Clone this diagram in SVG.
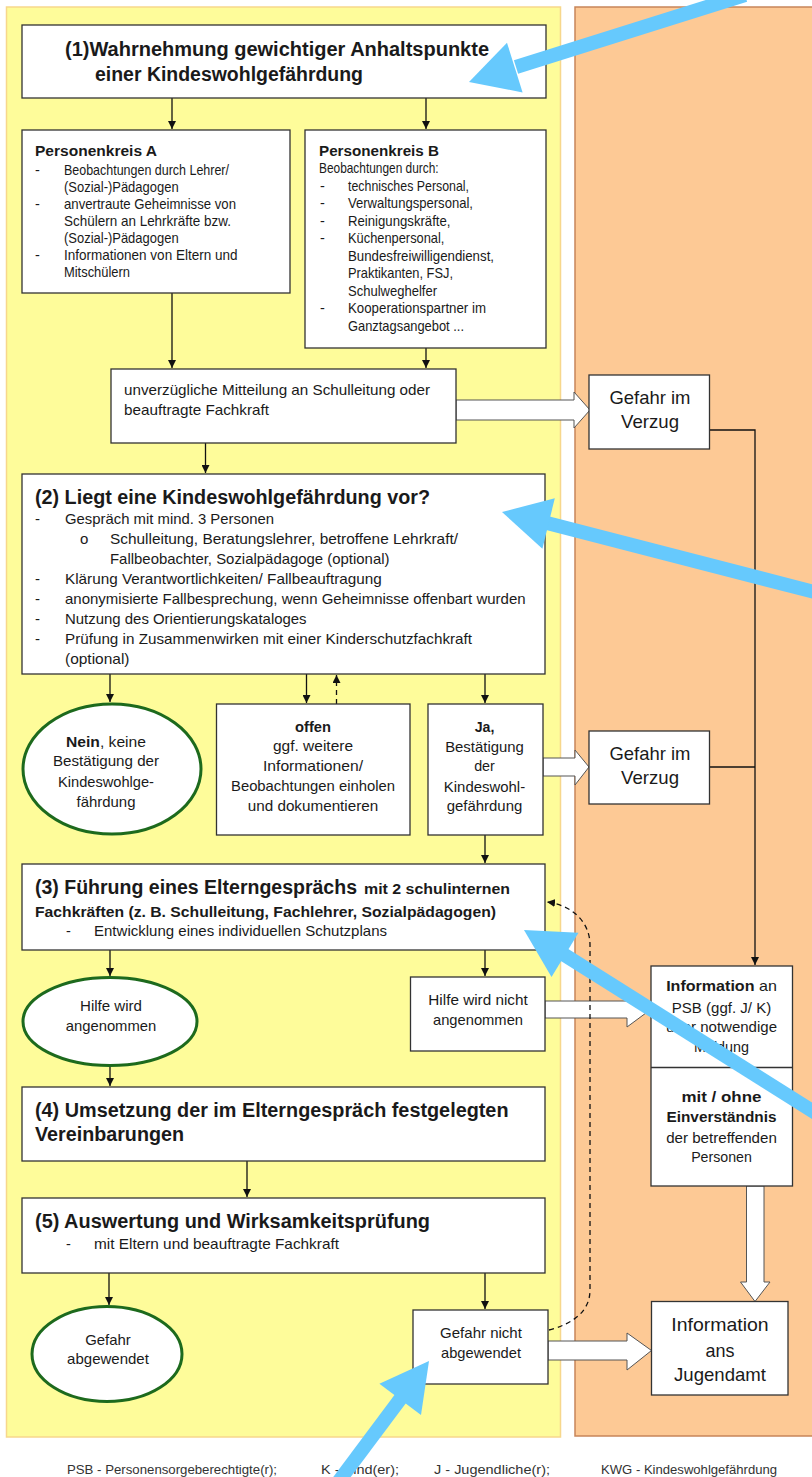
<svg xmlns="http://www.w3.org/2000/svg" width="812" height="1477" viewBox="0 0 812 1477">
<style>
text{font-family:"Liberation Sans",Arial,sans-serif;fill:#1a1a1a}
.h{font-size:20px;font-weight:bold}
.hb{font-size:14.5px;font-weight:bold}
.t{font-size:14.5px}
.m{font-size:15px}
.g{font-size:19px}
.c{text-anchor:middle}
.f{font-size:13px;fill:#333}
.box{fill:#fff;stroke:#333;stroke-width:1.3}
.ell{fill:#fff;stroke:#1d6a1d;stroke-width:3}
.ln{fill:none;stroke:#111;stroke-width:1.3}
.dash{fill:none;stroke:#111;stroke-width:1.3;stroke-dasharray:5 4}
.blk{fill:#fff;stroke:#555;stroke-width:1}
.blue{stroke:#66c9fd;stroke-width:14;fill:none}
.blueh{fill:#66c9fd}
</style>
<defs>
<marker id="ah" viewBox="0 0 10 10" refX="10" refY="5" markerWidth="8" markerHeight="8" markerUnits="userSpaceOnUse" orient="auto"><path d="M0,0 L10,5 L0,10 z" fill="#111"/></marker>
</defs>
<rect width="812" height="1477" fill="#fff"/>
<g id="panels">
<rect x="6.5" y="7" width="554" height="1430" fill="#fefc9a" stroke="#f7d78c" stroke-width="1.5"/>
<rect x="575" y="7" width="245" height="1429" fill="#fdc995" stroke="#c7855a" stroke-width="1.5"/>
</g>
<g id="connectors">
<line class="ln" x1="172" y1="98" x2="172" y2="129" marker-end="url(#ah)"/>
<line class="ln" x1="426" y1="98" x2="426" y2="129" marker-end="url(#ah)"/>
<line class="ln" x1="172" y1="293" x2="172" y2="368" marker-end="url(#ah)"/>
<line class="ln" x1="426" y1="348" x2="426" y2="368" marker-end="url(#ah)"/>
<line class="ln" x1="205.5" y1="443" x2="205.5" y2="473" marker-end="url(#ah)"/>
<polygon class="blk" points="456,400 574,400 574,392 590,410 574,428 574,420 456,420"/>
<polyline class="ln" points="709,430 755,430 755,965" marker-end="url(#ah)"/>
<line class="ln" x1="110" y1="674" x2="110" y2="702" marker-end="url(#ah)"/>
<line class="ln" x1="306.5" y1="674" x2="306.5" y2="703" marker-end="url(#ah)"/>
<line class="dash" x1="336.5" y1="704" x2="336.5" y2="675" marker-end="url(#ah)"/>
<line class="ln" x1="485" y1="674" x2="485" y2="703" marker-end="url(#ah)"/>
<polygon class="blk" points="543,758 575,758 575,750 589,767 575,785 575,776 543,776"/>
<line class="ln" x1="709" y1="767" x2="755" y2="767"/>
<line class="ln" x1="485" y1="835" x2="485" y2="863" marker-end="url(#ah)"/>
<line class="ln" x1="110" y1="950" x2="110" y2="976" marker-end="url(#ah)"/>
<line class="ln" x1="485" y1="950" x2="485" y2="976" marker-end="url(#ah)"/>
<polygon class="blk" points="545,1001 627,1001 627,993 650,1010 627,1027 627,1018 545,1018"/>
<line class="ln" x1="110" y1="1066" x2="110" y2="1086" marker-end="url(#ah)"/>
<line class="ln" x1="247" y1="1161" x2="247" y2="1197" marker-end="url(#ah)"/>
<line class="ln" x1="109" y1="1273" x2="109" y2="1305" marker-end="url(#ah)"/>
<line class="ln" x1="485" y1="1273" x2="485" y2="1309" marker-end="url(#ah)"/>
<polygon class="blk" points="746.5,1186 764,1186 764,1282 770,1282 755,1301.5 740.5,1282 746.5,1282"/>
<polygon class="blk" points="548,1341 627,1341 627,1333 651.5,1350.5 627,1370 627,1360 548,1360"/>
<path class="dash" d="M549,1330 C572,1324 590,1312 590,1290 L590,945 C590,922 572,905 547,902" marker-end="url(#ah)"/>
</g>
<g id="n1">
<rect class="box" x="22" y="25" width="524" height="73"/>
<text class="h" x="65" y="56" textLength="424" lengthAdjust="spacingAndGlyphs">(1)Wahrnehmung gewichtiger Anhaltspunkte</text>
<text class="h" x="95" y="80.5" textLength="268" lengthAdjust="spacingAndGlyphs">einer Kindeswohlgefährdung</text>
</g>
<g id="nA">
<rect class="box" x="22" y="130" width="268" height="163"/>
<text class="hb" x="35" y="156.4" textLength="122" lengthAdjust="spacingAndGlyphs">Personenkreis A</text>
<text class="t" x="35" y="175.3">-</text>
<text class="t" x="64" y="175.3" textLength="165" lengthAdjust="spacingAndGlyphs">Beobachtungen durch Lehrer/</text>
<text class="t" x="64" y="192.3" textLength="114.6" lengthAdjust="spacingAndGlyphs">(Sozial-)Pädagogen</text>
<text class="t" x="35" y="209.3">-</text>
<text class="t" x="64" y="209.3" textLength="172" lengthAdjust="spacingAndGlyphs">anvertraute Geheimnisse von</text>
<text class="t" x="64" y="226.3" textLength="167" lengthAdjust="spacingAndGlyphs">Schülern an Lehrkräfte bzw.</text>
<text class="t" x="64" y="243.3" textLength="114.6" lengthAdjust="spacingAndGlyphs">(Sozial-)Pädagogen</text>
<text class="t" x="35" y="260.3">-</text>
<text class="t" x="64" y="260.3" textLength="173.5" lengthAdjust="spacingAndGlyphs">Informationen von Eltern und</text>
<text class="t" x="64" y="277.3" textLength="66" lengthAdjust="spacingAndGlyphs">Mitschülern</text>
</g>
<g id="nB">
<rect class="box" x="305" y="130" width="241" height="218"/>
<text class="hb" x="319" y="156.4" textLength="120" lengthAdjust="spacingAndGlyphs">Personenkreis B</text>
<text class="t" x="319" y="173" textLength="119.6" lengthAdjust="spacingAndGlyphs">Beobachtungen durch:</text>
<text class="t" x="320" y="190.5">-</text>
<text class="t" x="348" y="190.5" textLength="121" lengthAdjust="spacingAndGlyphs">technisches Personal,</text>
<text class="t" x="320" y="208">-</text>
<text class="t" x="348" y="208" textLength="125" lengthAdjust="spacingAndGlyphs">Verwaltungspersonal,</text>
<text class="t" x="320" y="225.5">-</text>
<text class="t" x="348" y="225.5" textLength="102.5" lengthAdjust="spacingAndGlyphs">Reinigungskräfte,</text>
<text class="t" x="320" y="243">-</text>
<text class="t" x="348" y="243" textLength="96.4" lengthAdjust="spacingAndGlyphs">Küchenpersonal,</text>
<text class="t" x="348" y="260.5" textLength="146" lengthAdjust="spacingAndGlyphs">Bundesfreiwilligendienst,</text>
<text class="t" x="348" y="278" textLength="105" lengthAdjust="spacingAndGlyphs">Praktikanten, FSJ,</text>
<text class="t" x="348" y="295.5" textLength="89" lengthAdjust="spacingAndGlyphs">Schulweghelfer</text>
<text class="t" x="320" y="313">-</text>
<text class="t" x="348" y="313" textLength="138" lengthAdjust="spacingAndGlyphs">Kooperationspartner im</text>
<text class="t" x="348" y="330.5" textLength="116" lengthAdjust="spacingAndGlyphs">Ganztagsangebot ...</text>
</g>
<g id="nMitteilung">
<rect class="box" x="111" y="369" width="345" height="74"/>
<text class="t" x="124" y="395.4" textLength="306" lengthAdjust="spacingAndGlyphs">unverzügliche Mitteilung an Schulleitung oder</text>
<text class="t" x="124" y="414.7" textLength="145" lengthAdjust="spacingAndGlyphs">beauftragte Fachkraft</text>
</g>
<g id="nGefahr1">
<rect class="box" x="589" y="375" width="120.5" height="74"/>
<text class="g c" x="650" y="404.3" textLength="81" lengthAdjust="spacingAndGlyphs">Gefahr im</text>
<text class="g c" x="650" y="428" textLength="58" lengthAdjust="spacingAndGlyphs">Verzug</text>
</g>
<g id="n2">
<rect class="box" x="22" y="474" width="523" height="200"/>
<text class="h" x="35" y="503.5" textLength="395" lengthAdjust="spacingAndGlyphs">(2) Liegt eine Kindeswohlgefährdung vor?</text>
<text class="m" x="35" y="524.2">-</text>
<text class="m" x="65" y="524.2" textLength="209" lengthAdjust="spacingAndGlyphs">Gespräch mit mind. 3 Personen</text>
<text class="m" x="80" y="543.9">o</text>
<text class="m" x="110" y="543.9" textLength="348" lengthAdjust="spacingAndGlyphs">Schulleitung, Beratungslehrer, betroffene Lehrkraft/</text>
<text class="m" x="110" y="563.9" textLength="279.5" lengthAdjust="spacingAndGlyphs">Fallbeobachter, Sozialpädagoge (optional)</text>
<text class="m" x="35" y="583.9">-</text>
<text class="m" x="65" y="583.9" textLength="316.7" lengthAdjust="spacingAndGlyphs">Klärung Verantwortlichkeiten/ Fallbeauftragung</text>
<text class="m" x="35" y="603.9">-</text>
<text class="m" x="65" y="603.9" textLength="460.6" lengthAdjust="spacingAndGlyphs">anonymisierte Fallbesprechung, wenn Geheimnisse offenbart wurden</text>
<text class="m" x="35" y="623.9">-</text>
<text class="m" x="65" y="623.9" textLength="241.6" lengthAdjust="spacingAndGlyphs">Nutzung des Orientierungskataloges</text>
<text class="m" x="35" y="643.9">-</text>
<text class="m" x="65" y="643.9" textLength="407" lengthAdjust="spacingAndGlyphs">Prüfung in Zusammenwirken mit einer Kinderschutzfachkraft</text>
<text class="m" x="65" y="663.9" textLength="64.5" lengthAdjust="spacingAndGlyphs">(optional)</text>
</g>
<g id="nNein">
<ellipse class="ell" cx="112" cy="769" rx="89" ry="65"/>
<text class="m c" x="106" y="746.6" textLength="80" lengthAdjust="spacingAndGlyphs"><tspan font-weight="bold">Nein</tspan>, keine</text>
<text class="m c" x="106" y="765.6" textLength="106" lengthAdjust="spacingAndGlyphs">Bestätigung der</text>
<text class="m c" x="106" y="786.6" textLength="96" lengthAdjust="spacingAndGlyphs">Kindeswohlge-</text>
<text class="m c" x="106" y="806.6" textLength="59" lengthAdjust="spacingAndGlyphs">fährdung</text>
</g>
<g id="nOffen">
<rect class="box" x="216.5" y="704" width="193.5" height="131"/>
<text class="m c" x="313" y="731.6" font-weight="bold" textLength="36" lengthAdjust="spacingAndGlyphs">offen</text>
<text class="m c" x="313" y="751" textLength="80" lengthAdjust="spacingAndGlyphs">ggf. weitere</text>
<text class="m c" x="313" y="770.6" textLength="100" lengthAdjust="spacingAndGlyphs">Informationen/</text>
<text class="m c" x="313" y="791" textLength="164" lengthAdjust="spacingAndGlyphs">Beobachtungen einholen</text>
<text class="m c" x="313" y="811" textLength="130.5" lengthAdjust="spacingAndGlyphs">und dokumentieren</text>
</g>
<g id="nJa">
<rect class="box" x="428" y="704" width="115" height="131"/>
<text class="m c" x="484.5" y="731.6" font-weight="bold" textLength="19.7" lengthAdjust="spacingAndGlyphs">Ja,</text>
<text class="m c" x="484.5" y="752" textLength="78.7" lengthAdjust="spacingAndGlyphs">Bestätigung</text>
<text class="m c" x="484.5" y="771" textLength="20.7" lengthAdjust="spacingAndGlyphs">der</text>
<text class="m c" x="484.5" y="791.6" textLength="81.3" lengthAdjust="spacingAndGlyphs">Kindeswohl-</text>
<text class="m c" x="484.5" y="811" textLength="75.6" lengthAdjust="spacingAndGlyphs">gefährdung</text>
</g>
<g id="nGefahr2">
<rect class="box" x="589" y="731" width="120.5" height="73"/>
<text class="g c" x="650" y="759.6" textLength="81" lengthAdjust="spacingAndGlyphs">Gefahr im</text>
<text class="g c" x="650" y="783.6" textLength="58" lengthAdjust="spacingAndGlyphs">Verzug</text>
</g>
<g id="n3">
<rect class="box" x="22" y="864" width="523" height="86"/>
<text class="h" x="35" y="893.6" textLength="322" lengthAdjust="spacingAndGlyphs">(3) Führung eines Elterngesprächs</text>
<text class="hb" x="364" y="893.6" font-size="15" textLength="146" lengthAdjust="spacingAndGlyphs">mit 2 schulinternen</text>
<text class="hb" x="35" y="916.6" font-size="15" textLength="461" lengthAdjust="spacingAndGlyphs">Fachkräften (z. B. Schulleitung, Fachlehrer, Sozialpädagogen)</text>
<text class="t" x="66" y="935.6">-</text>
<text class="t" x="94" y="935.6" textLength="293" lengthAdjust="spacingAndGlyphs">Entwicklung eines individuellen Schutzplans</text>
</g>
<g id="nHilfeJa">
<ellipse class="ell" cx="110" cy="1021.5" rx="87" ry="44"/>
<text class="m c" x="111" y="1010.9" textLength="62" lengthAdjust="spacingAndGlyphs">Hilfe wird</text>
<text class="m c" x="111" y="1030.9" textLength="90.6" lengthAdjust="spacingAndGlyphs">angenommen</text>
</g>
<g id="nHilfeNein">
<rect class="box" x="410.5" y="977" width="134.5" height="74"/>
<text class="m c" x="478" y="1004.9" textLength="99.4" lengthAdjust="spacingAndGlyphs">Hilfe wird nicht</text>
<text class="m c" x="478" y="1024.9" textLength="90" lengthAdjust="spacingAndGlyphs">angenommen</text>
</g>
<g id="nInfoPSB">
<rect class="box" x="651" y="966" width="141.5" height="220"/>
<line x1="651" y1="1067.5" x2="792.5" y2="1067.5" stroke="#333" stroke-width="1.3"/>
<text class="m c" x="721.5" y="990.9" textLength="110.7" lengthAdjust="spacingAndGlyphs"><tspan font-weight="bold">Information</tspan> an</text>
<text class="m c" x="721.5" y="1013.2" textLength="99.3" lengthAdjust="spacingAndGlyphs">PSB (ggf. J/ K)</text>
<text class="m c" x="721.5" y="1031.9" textLength="111" lengthAdjust="spacingAndGlyphs">über notwendige</text>
<text class="m c" x="721.5" y="1051.9" textLength="55" lengthAdjust="spacingAndGlyphs">Meldung</text>
<text class="m c" x="721.5" y="1101.6" font-weight="bold" textLength="80" lengthAdjust="spacingAndGlyphs">mit / ohne</text>
<text class="m c" x="721.5" y="1121.6" font-weight="bold" textLength="110" lengthAdjust="spacingAndGlyphs">Einverständnis</text>
<text class="m c" x="721.5" y="1142.6" textLength="110.7" lengthAdjust="spacingAndGlyphs">der betreffenden</text>
<text class="m c" x="721.5" y="1161.6" textLength="60.7" lengthAdjust="spacingAndGlyphs">Personen</text>
</g>
<g id="n4">
<rect class="box" x="22" y="1087" width="523" height="74"/>
<text class="h" x="35" y="1117" textLength="473.5" lengthAdjust="spacingAndGlyphs">(4) Umsetzung der im Elterngespräch festgelegten</text>
<text class="h" x="35" y="1141.3" textLength="149" lengthAdjust="spacingAndGlyphs">Vereinbarungen</text>
</g>
<g id="n5">
<rect class="box" x="22" y="1198" width="523" height="75"/>
<text class="h" x="35" y="1228" textLength="395" lengthAdjust="spacingAndGlyphs">(5) Auswertung und Wirksamkeitsprüfung</text>
<text class="t" x="66" y="1248.6">-</text>
<text class="t" x="94" y="1248.6" textLength="245" lengthAdjust="spacingAndGlyphs">mit Eltern und beauftragte Fachkraft</text>
</g>
<g id="nAbgewendet">
<ellipse class="ell" cx="107" cy="1354" rx="75" ry="47.5"/>
<text class="m c" x="108" y="1344.9" textLength="45.6" lengthAdjust="spacingAndGlyphs">Gefahr</text>
<text class="m c" x="108" y="1364.2" textLength="81.8" lengthAdjust="spacingAndGlyphs">abgewendet</text>
</g>
<g id="nNichtAbgewendet">
<rect class="box" x="413" y="1310" width="135" height="74"/>
<text class="m c" x="481" y="1338.2" textLength="81.8" lengthAdjust="spacingAndGlyphs">Gefahr nicht</text>
<text class="m c" x="481" y="1358.2" textLength="80" lengthAdjust="spacingAndGlyphs">abgewendet</text>
</g>
<g id="nJugendamt">
<rect class="box" x="651.5" y="1301.5" width="136.5" height="93.5"/>
<text class="g c" x="720" y="1331.3" textLength="97.4" lengthAdjust="spacingAndGlyphs">Information</text>
<text class="g c" x="720" y="1357" textLength="29" lengthAdjust="spacingAndGlyphs">ans</text>
<text class="g c" x="720" y="1381.3" textLength="92" lengthAdjust="spacingAndGlyphs">Jugendamt</text>
</g>
<g id="legend">
<text class="f" x="67" y="1474" textLength="210" lengthAdjust="spacingAndGlyphs">PSB - Personensorgeberechtigte(r);</text>
<text class="f" x="321" y="1474" textLength="78" lengthAdjust="spacingAndGlyphs">K - Kind(er);</text>
<text class="f" x="434" y="1474" textLength="116" lengthAdjust="spacingAndGlyphs">J - Jugendliche(r);</text>
<text class="f" x="601" y="1474" textLength="176" lengthAdjust="spacingAndGlyphs">KWG  - Kindeswohlgefährdung</text>
</g>
<g id="annotations">
<line class="blue" x1="745" y1="-5" x2="516" y2="67"/>
<polygon class="blueh" points="469,82 522.6,92.4 507,42.8"/>
<line class="blue" x1="830" y1="596" x2="547" y2="523"/>
<polygon class="blueh" points="502,512 542.4,548.7 554.8,498.3"/>
<line class="blue" x1="830" y1="1122" x2="563" y2="954"/>
<polygon class="blueh" points="524,930 551.5,977.1 578.5,932.7"/>
<line class="blue" x1="336" y1="1485" x2="401" y2="1398"/>
<polygon class="blueh" points="429,1361 421,1415 379.4,1383.8"/>
</g>
</svg>
